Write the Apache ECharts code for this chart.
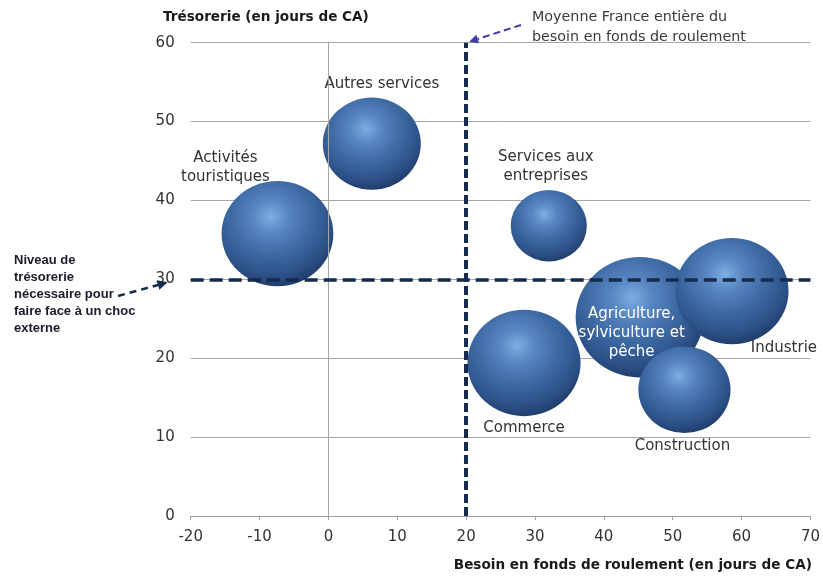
<!DOCTYPE html>
<html>
<head>
<meta charset="utf-8">
<script src="https://cdn.jsdelivr.net/npm/echarts@6/dist/echarts.min.js"></script>
<style>
  html, body { margin: 0; padding: 0; background: #fff; }
  #chart { width: 823px; height: 578px; }
</style>
</head>
<body>
<div id="chart"></div>
<script>
// Secteurs : besoin en fonds de roulement vs trésorerie (en jours de CA)
const sectors = ['Activités touristiques', 'Autres services', 'Services aux entreprises',
  'Agriculture, sylviculture et pêche', 'Industrie', 'Commerce', 'Construction'];
const sectorLabels = ['Activités\ntouristiques', 'Autres services', 'Services aux\nentreprises',
  'Agriculture,\nsylviculture et\npêche', 'Industrie', 'Commerce', 'Construction'];
const bfr = [-7.4, 6.3, 32.0, 45.2, 58.6, 28.4, 51.7];
const tresorerie = [35.8, 47.2, 36.8, 25.2, 28.5, 19.4, 16.0];
const poids = [125, 96, 58, 164, 128, 128, 85];
const xTicks = [-20, -10, 0, 10, 20, 30, 40, 50, 60, 70];
const yTicks = [0, 10, 20, 30, 40, 50, 60];
const seuilTresorerie = 30;   // niveau nécessaire pour faire face à un choc externe
const moyenneBfr = 20;        // moyenne France entière du BFR

// label placement around each bubble (offset from the bubble centre, px)
const labelPlacement = {
  'Activités touristiques': { offset: [-52, -66], color: '#333' },
  'Autres services': { offset: [10, -60], color: '#333' },
  'Services aux entreprises': { offset: [-3, -59], color: '#333' },
  'Agriculture, sylviculture et pêche': { offset: [-8, 16], color: '#fff' },
  'Industrie': { offset: [52, 57], color: '#333' },
  'Commerce': { offset: [0, 65], color: '#333' },
  'Construction': { offset: [-2, 56], color: '#333' }
};

const sphere = {
  type: 'radial', x: 0.44, y: 0.34, r: 0.8,
  colorStops: [
    { offset: 0, color: '#7eade4' },
    { offset: 0.2, color: '#5886c1' },
    { offset: 0.45, color: '#3e6aa4' },
    { offset: 0.7, color: '#2c5087' },
    { offset: 0.86, color: '#1e3a66' },
    { offset: 1, color: '#1c365f' }
  ]
};

const points = sectors.map((name, i) => {
  const p = labelPlacement[name];
  return {
    name: name,
    value: [bfr[i], tresorerie[i], poids[i]],
    label: {
      show: true,
      position: 'inside',
      offset: p.offset,
      formatter: sectorLabels[i],
      color: p.color,
      fontFamily: 'DejaVu Sans',
      fontSize: 15,
      lineHeight: 19,
      align: 'center'
    }
  };
});

const chart = echarts.init(document.getElementById('chart'), null, { renderer: 'canvas' });

const option = {
  animation: false,
  backgroundColor: '#fff',
  grid: { left: 190.7, right: 10.7, top: 42.7, bottom: 62, containLabel: false },
  xAxis: {
    type: 'value', min: xTicks[0], max: xTicks[xTicks.length - 1], interval: 10,
    axisLine: { onZero: false, lineStyle: { color: '#a0a0a0', width: 1 } },
    axisTick: { show: true, length: 4, lineStyle: { color: '#a0a0a0' } },
    axisLabel: { color: '#333', fontFamily: 'DejaVu Sans', fontSize: 15, margin: 14 },
    splitLine: { show: false }
  },
  yAxis: {
    type: 'value', min: yTicks[0], max: yTicks[yTicks.length - 1], interval: 10,
    axisLine: { show: false, onZero: false },
    axisTick: { show: false },
    axisLabel: { color: '#333', fontFamily: 'DejaVu Sans', fontSize: 15, margin: 16 },
    splitLine: { show: true, lineStyle: { color: '#a6a6a6', width: 1 } }
  },
  series: [
    {
      // vertical axis line at zero, behind the bubbles
      type: 'scatter', data: [], z: 1, silent: true,
      markLine: {
        silent: true, symbol: 'none', label: { show: false },
        lineStyle: { color: '#a6a6a6', width: 1, type: 'solid' },
        data: [{ xAxis: 0 }]
      }
    },
    {
      type: 'scatter', z: 3,
      data: points,
      symbol: 'circle',
      symbolSize: v => {
        const d = 10 * Math.sqrt(v[2]);
        return [d, d * 0.94];
      },
      itemStyle: { color: sphere, opacity: 1 },
      emphasis: { disabled: true }
    },
    {
      // reference thresholds
      type: 'scatter', data: [], z: 10, silent: true,
      markLine: {
        silent: true, symbol: 'none', label: { show: false },
        data: [
          { yAxis: seuilTresorerie, lineStyle: { color: '#142a4e', width: 3.5, type: [13, 6] } },
          { xAxis: moyenneBfr, lineStyle: { color: '#142a4e', width: 4, type: [9, 4] } }
        ]
      }
    }
  ]
};
chart.setOption(option);

// annotations with dashed arrows pointing at the reference lines
function dashedArrow(from, to, color, width, dash, head) {
  const ang = Math.atan2(to[1] - from[1], to[0] - from[0]);
  const back = [to[0] - head * Math.cos(ang), to[1] - head * Math.sin(ang)];
  const nx = -Math.sin(ang), ny = Math.cos(ang);
  const hw = head * 0.5;
  return [
    { type: 'line', shape: { x1: from[0], y1: from[1], x2: back[0], y2: back[1] },
      style: { stroke: color, lineWidth: width, lineDash: dash }, z: 20 },
    { type: 'polygon', shape: { points: [to,
        [back[0] + nx * hw, back[1] + ny * hw],
        [back[0] - nx * hw, back[1] - ny * hw]] },
      style: { fill: color }, z: 20 }
  ];
}

const tipSeuil = chart.convertToPixel({ gridIndex: 0 }, [xTicks[0], seuilTresorerie]);
const tipMoy = chart.convertToPixel({ gridIndex: 0 }, [moyenneBfr, yTicks[yTicks.length - 1]]);

chart.setOption({
  graphic: [
    {
      type: 'text', left: 163, top: 10, z: 20,
      style: {
        text: 'Trésorerie (en jours de CA)',
        fill: '#1a1a1a', font: 'bold 13.6px "DejaVu Sans", sans-serif'
      }
    },
    {
      type: 'text', right: 11, top: 558, z: 20,
      style: {
        text: 'Besoin en fonds de roulement (en jours de CA)',
        fill: '#1a1a1a', font: 'bold 13.6px "DejaVu Sans", sans-serif'
      }
    },
    {
      type: 'text', left: 14, top: 252, z: 20,
      style: {
        text: 'Niveau de\ntrésorerie\nnécessaire pour\nfaire face à un choc\nexterne',
        fill: '#1b1b2b', font: 'bold 13px "Liberation Sans", Arial, sans-serif', lineHeight: 17
      }
    },
    ...dashedArrow([118, 296], [tipSeuil[0] - 23, tipSeuil[1] + 3], '#142a4e', 2.5, [7, 5], 10),
    {
      type: 'text', left: 532, top: 7, z: 20,
      style: {
        text: 'Moyenne France entière du\nbesoin en fonds de roulement',
        fill: '#3a3a3a', font: '14.3px "DejaVu Sans", sans-serif', lineHeight: 20
      }
    },
    ...dashedArrow([521, 25], [tipMoy[0] + 3, tipMoy[1] - 1], '#3c3ca6', 2, [7, 4], 9)
  ]
});
</script>
</body>
</html>
